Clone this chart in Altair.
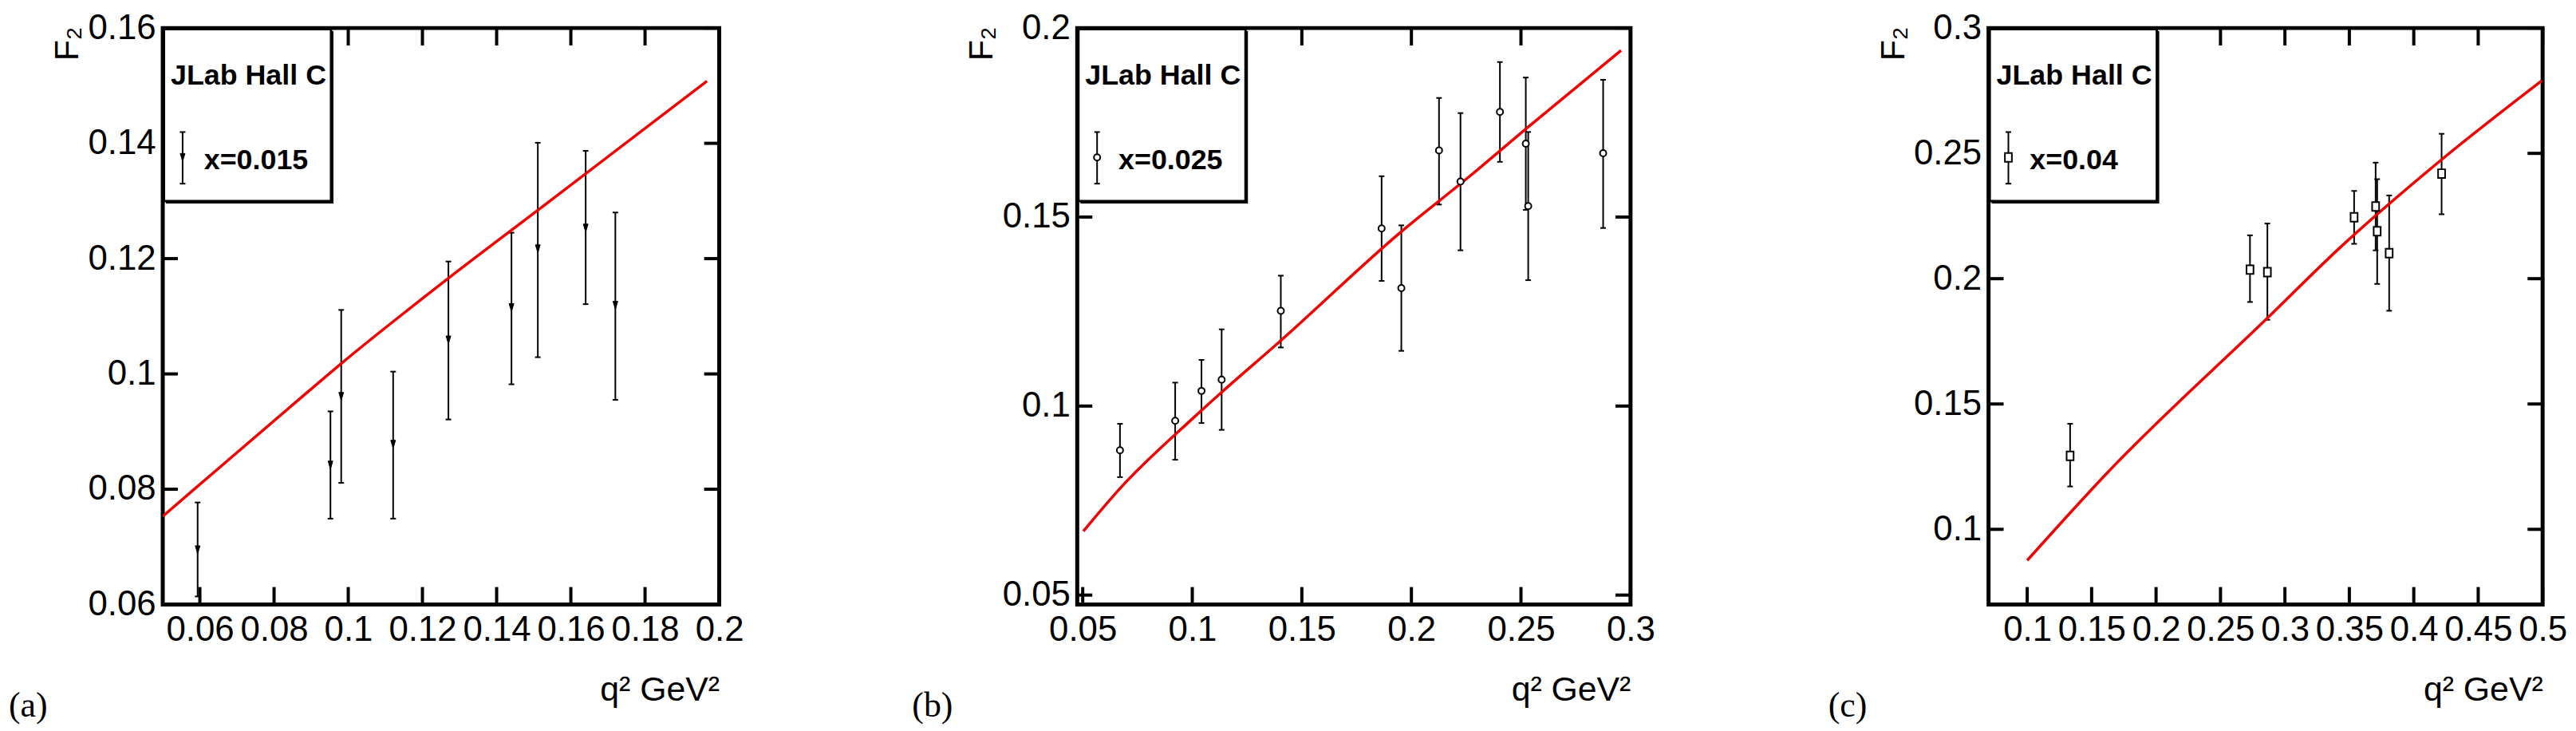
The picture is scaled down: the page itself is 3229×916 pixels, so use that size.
import altair as alt
import pandas as pd

# ---------------- data ----------------
# panel (a)  x = 0.015
a_q2 = [0.0594, 0.0952, 0.0981, 0.1121, 0.1270, 0.1440, 0.1511, 0.1640, 0.1720]
a_f2 = [0.0695, 0.0842, 0.0961, 0.0878, 0.1059, 0.1115, 0.1217, 0.1253, 0.1119]
a_lo = [0.0614, 0.0749, 0.0811, 0.0749, 0.0921, 0.0982, 0.1029, 0.1121, 0.0955]
a_hi = [0.0777, 0.0935, 0.1111, 0.1004, 0.1195, 0.1245, 0.1401, 0.1387, 0.1280]
a_curve_q2 = [0.05, 0.0592, 0.0853, 0.0981, 0.127, 0.1511, 0.1967]
a_curve_f2 = [0.0753, 0.0804, 0.0948, 0.1018, 0.1166, 0.1284, 0.1508]

# panel (b)  x = 0.025
b_q2 = [0.0670, 0.0922, 0.1042, 0.1134, 0.1404, 0.1864, 0.1954, 0.2126, 0.2224, 0.2404, 0.2522, 0.2533, 0.2875]
b_f2 = [0.0883, 0.0961, 0.1040, 0.1070, 0.1252, 0.1470, 0.1312, 0.1676, 0.1594, 0.1778, 0.1694, 0.1529, 0.1669]
b_lo = [0.0812, 0.0858, 0.0955, 0.0937, 0.1155, 0.1331, 0.1146, 0.1533, 0.1412, 0.1646, 0.1519, 0.1333, 0.1471]
b_hi = [0.0953, 0.1062, 0.1122, 0.1203, 0.1345, 0.1608, 0.1478, 0.1815, 0.1775, 0.1910, 0.1869, 0.1725, 0.1863]
b_curve_q2 = [0.0503, 0.067, 0.0996, 0.1129, 0.1398, 0.1947, 0.2264, 0.2522, 0.2957]
b_curve_f2 = [0.0669, 0.0782, 0.0964, 0.1034, 0.1170, 0.1458, 0.1607, 0.1733, 0.1941]

# panel (c)  x = 0.04
c_q2 = [0.1333, 0.2729, 0.2864, 0.3537, 0.3704, 0.3716, 0.3809, 0.4216]
c_f2 = [0.1293, 0.2036, 0.2026, 0.2245, 0.2288, 0.2189, 0.2102, 0.2419]
c_lo = [0.1171, 0.1907, 0.1836, 0.2139, 0.2113, 0.1979, 0.1872, 0.2257]
c_hi = [0.1421, 0.2173, 0.2220, 0.2350, 0.2463, 0.2397, 0.2332, 0.2578]
c_curve_q2 = [0.1, 0.1611, 0.2864, 0.3432, 0.4216, 0.4994]
c_curve_f2 = [0.0876, 0.1220, 0.1843, 0.2126, 0.2475, 0.2790]

# axis ranges and tick labels
a_xdom, a_ydom = [0.05, 0.2], [0.06, 0.16]
a_xticks = [0.06, 0.08, 0.1, 0.12, 0.14, 0.16, 0.18, 0.2]
a_yticks = [0.06, 0.08, 0.1, 0.12, 0.14, 0.16]
b_xdom, b_ydom = [0.0475, 0.3], [0.0475, 0.2]
b_xticks = [0.05, 0.1, 0.15, 0.2, 0.25, 0.3]
b_yticks = [0.05, 0.1, 0.15, 0.2]
c_xdom, c_ydom = [0.07, 0.5], [0.07, 0.3]
c_xticks = [0.1, 0.15, 0.2, 0.25, 0.3, 0.35, 0.4, 0.45, 0.5]
c_yticks = [0.1, 0.15, 0.2, 0.25, 0.3]

legend_title = "JLab Hall C"
labels = ["x=0.015", "x=0.025", "x=0.04"]
tags = ["(a)", "(b)", "(c)"]

# ---------------- styling ----------------
SANS = "Liberation Sans, Arial, sans-serif"
SERIF = "Liberation Serif, DejaVu Serif, serif"
TRI = "M-0.6,-1L0.6,-1L0,1Z"
SQR = "M-0.8,-1L0.8,-1L0.8,1L-0.8,1Z"
H = 726
TX = 22   # x tick length in px (inward)
TY = 19   # y tick length in px (inward)
RED = "#f00000"

markers = [
    dict(shape=TRI, filled=True, fill="black", stroke="black", strokeWidth=1, size=100, opacity=1),
    dict(shape="circle", filled=True, fill="white", stroke="black", strokeWidth=2, size=64, opacity=1),
    dict(shape=SQR, filled=True, fill="white", stroke="black", strokeWidth=2, size=121, opacity=1),
]


def panel(q2, f2, lo, hi, cq, cf, xdom, ydom, xticks, yticks, marker, label, tag, tag_dx, width):
    pts = pd.DataFrame({"q2": q2, "f2": f2, "lo": lo, "hi": hi})
    crv = pd.DataFrame({"q2": cq, "f2": cf})
    # tick marks expressed in data units: tick length = fraction of the axis span
    ly = (ydom[1] - ydom[0]) * TX / H
    lx = (xdom[1] - xdom[0]) * TY / width
    xt = pd.DataFrame({"v": xticks, "b0": ydom[0], "b1": ydom[0] + ly,
                       "t0": ydom[1] - ly, "t1": ydom[1]})
    yt = pd.DataFrame({"v": yticks, "l0": xdom[0], "l1": xdom[0] + lx,
                       "r0": xdom[1] - lx, "r1": xdom[1]})
    one = pd.DataFrame({"k": [0]})
    xs = alt.Scale(domain=xdom, nice=False, zero=False)
    ys = alt.Scale(domain=ydom, nice=False, zero=False)
    common = dict(domain=False, grid=False, ticks=False,
                  labelFlush=False, labelOverlap=False, labelBound=False)
    xbot = alt.Axis(orient="bottom", values=xticks, format="~g",
                    labelFont=SANS, labelFontSize=44, labelColor="black", labelPadding=10,
                    title="q\u00b2 GeV\u00b2", titleFont=SANS, titleFontSize=43,
                    titleFontWeight="normal", titleColor="black", titleX=width,
                    titleY=121, titleAlign="right", titleBaseline="alphabetic", **common)
    yleft = alt.Axis(orient="left", values=yticks, format="~g",
                     labelFont=SANS, labelFontSize=44, labelColor="black", labelPadding=9,
                     title="F\u2082", titleFont=SANS, titleFontSize=43, titleFontWeight="normal",
                     titleColor="black", titleAngle=270, titleX=-107, titleY=-2,
                     titleAlign="right", titleBaseline="alphabetic", **common)

    def X(field):
        return alt.X(field, scale=xs, axis=None)

    def Y(field):
        return alt.Y(field, scale=ys, axis=None)

    bars = alt.Chart(pts).mark_rule(color="black", strokeWidth=2).encode(
        x=alt.X("q2:Q", scale=xs, axis=xbot), y=alt.Y("lo:Q", scale=ys, axis=yleft), y2="hi:Q")
    # inward ticks on all four sides
    tick_style = dict(color="black", strokeWidth=4)
    t_bot = alt.Chart(xt).mark_rule(**tick_style).encode(x=X("v:Q"), y=Y("b0:Q"), y2="b1:Q")
    t_top = alt.Chart(xt).mark_rule(**tick_style).encode(x=X("v:Q"), y=Y("t0:Q"), y2="t1:Q")
    t_left = alt.Chart(yt).mark_rule(**tick_style).encode(y=Y("v:Q"), x=X("l0:Q"), x2="l1:Q")
    t_right = alt.Chart(yt).mark_rule(**tick_style).encode(y=Y("v:Q"), x=X("r0:Q"), x2="r1:Q")

    cap_lo = alt.Chart(pts).mark_rule(color="black", strokeWidth=2, xOffset=-3.5, x2Offset=3.5).encode(
        x=X("q2:Q"), x2="q2:Q", y=Y("lo:Q"))
    cap_hi = alt.Chart(pts).mark_rule(color="black", strokeWidth=2, xOffset=-3.5, x2Offset=3.5).encode(
        x=X("q2:Q"), x2="q2:Q", y=Y("hi:Q"))
    curve = alt.Chart(crv).mark_line(color=RED, strokeWidth=3.5, clip=True,
                                     interpolate="monotone").encode(
        x=X("q2:Q"), y=Y("f2:Q"))
    points = alt.Chart(pts).mark_point(**marker).encode(
        x=X("q2:Q"), y=Y("f2:Q"))

    # legend box (TLegend style, with shadow)
    shadow = alt.Chart(one).mark_rect(color="black").encode(
        x=alt.value(4), x2=alt.value(215), y=alt.value(4), y2=alt.value(221))
    box = alt.Chart(one).mark_rect(fill="white", stroke="black", strokeWidth=3).encode(
        x=alt.value(1.5), x2=alt.value(212), y=alt.value(1.5), y2=alt.value(218))
    ltitle = alt.Chart(one).mark_text(text=legend_title, font=SANS, fontSize=36, fontWeight="bold",
                                      align="left", baseline="alphabetic", color="black").encode(
        x=alt.value(10), y=alt.value(71))
    ltext = alt.Chart(one).mark_text(text=label, font=SANS, fontSize=36, fontWeight="bold",
                                     align="left", baseline="alphabetic", color="black").encode(
        x=alt.value(52), y=alt.value(178))
    sbar = alt.Chart(one).mark_rule(color="black", strokeWidth=2).encode(
        x=alt.value(25), y=alt.value(131), y2=alt.value(196))
    scap1 = alt.Chart(one).mark_rule(color="black", strokeWidth=2).encode(
        x=alt.value(21.5), x2=alt.value(28.5), y=alt.value(131))
    scap2 = alt.Chart(one).mark_rule(color="black", strokeWidth=2).encode(
        x=alt.value(21.5), x2=alt.value(28.5), y=alt.value(196))
    spt = alt.Chart(one).mark_point(**marker).encode(x=alt.value(25), y=alt.value(163))
    ttag = alt.Chart(one).mark_text(text=tag, font=SERIF, fontSize=44, align="left",
                                    baseline="alphabetic", color="black").encode(
        x=alt.value(tag_dx), y=alt.value(H + 141))

    return alt.layer(bars, t_bot, t_top, t_left, t_right, cap_lo, cap_hi, curve, points,
                     shadow, box, ltitle, ltext, sbar, scap1, scap2, spt, ttag).resolve_axis(
        x="independent", y="independent").properties(width=width, height=H)


pa = panel(a_q2, a_f2, a_lo, a_hi, a_curve_q2, a_curve_f2, a_xdom, a_ydom, a_xticks, a_yticks,
           markers[0], labels[0], tags[0], -194, 701)
pb = panel(b_q2, b_f2, b_lo, b_hi, b_curve_q2, b_curve_f2, b_xdom, b_ydom, b_xticks, b_yticks,
           markers[1], labels[1], tags[1], -208, 697)
pc = panel(c_q2, c_f2, c_lo, c_hi, c_curve_q2, c_curve_f2, c_xdom, c_ydom, c_xticks, c_yticks,
           markers[2], labels[2], tags[2], -202, 698)

chart = alt.hconcat(pa, pb, pc, spacing=451, bounds="flush").properties(
    padding={"top": 0, "left": 0, "right": 0, "bottom": 0},
    background="white",
).configure_view(stroke="black", strokeWidth=5)

chart.save("out.html", embed_options={"renderer": "svg", "actions": False})
